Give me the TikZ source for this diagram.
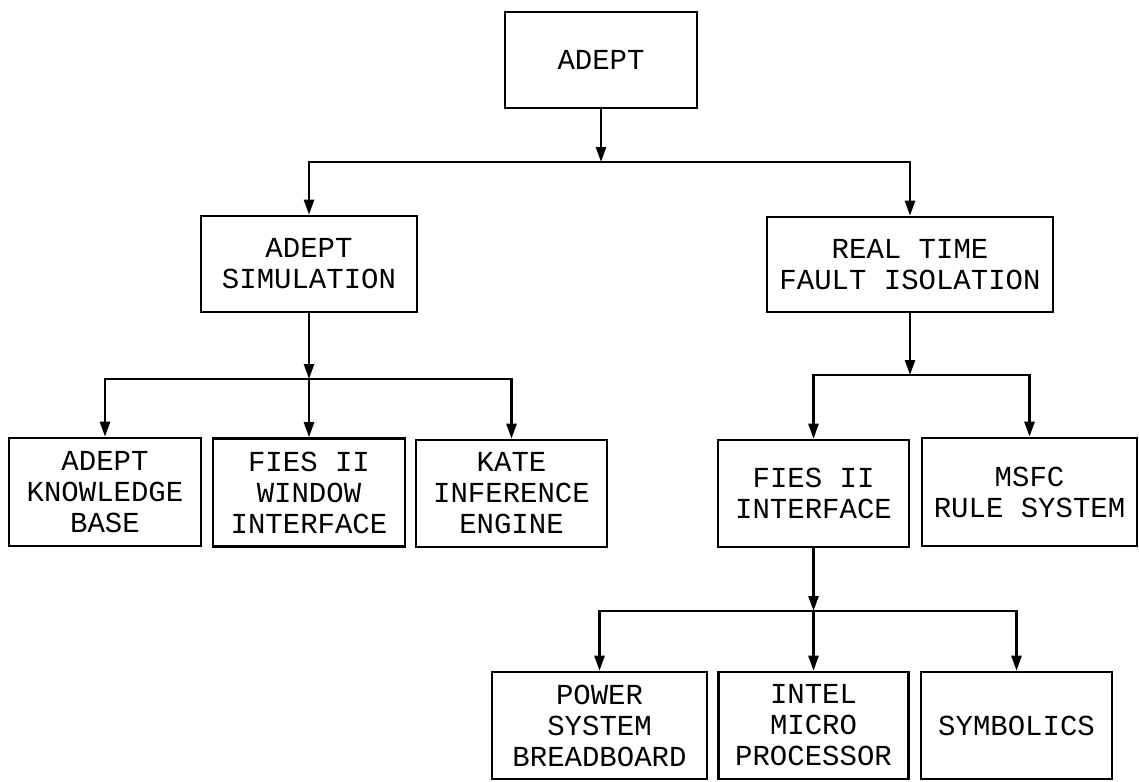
\documentclass[tikz,border=0pt]{standalone}
\usepackage{fontspec}
\setmonofont{Liberation Mono}
\usetikzlibrary{arrows.meta}
\tikzset{
  box/.style={draw, line width=2.6pt, align=center, inner sep=0pt,
    font=\ttfamily\fontsize{29}{31}\selectfont},
  arr/.style={line width=2.5pt, -{Triangle[length=15pt,width=10pt]}},
  bar/.style={line width=2.5pt},
}
\begin{document}
\begin{tikzpicture}[x=1pt,y=-1pt]
\useasboundingbox (0,0) rectangle (1139,781);
\fill[white] (0,0) rectangle (1139,781);
% nodes
\node[box, minimum width=192pt, minimum height=96pt] (adept) at (601,60) {ADEPT};
\node[box, minimum width=216pt, minimum height=96pt] (sim) at (309,264) {ADEPT\\SIMULATION};
\node[box, minimum width=286pt, minimum height=95pt] (rt) at (910,264.5) {REAL TIME\\FAULT ISOLATION};
\node[box, minimum width=192pt, minimum height=108pt] (kb) at (105,492) {ADEPT\\KNOWLEDGE\\BASE};
\node[box, minimum width=192pt, minimum height=108pt] (win) at (309,492.5) {FIES II\\WINDOW\\INTERFACE};
\node[box, minimum width=191pt, minimum height=107pt] (kate) at (511.5,493.5) {KATE\\INFERENCE\\ENGINE};
\node[box, minimum width=191pt, minimum height=107pt] (fint) at (813.5,493.5) {FIES II\\INTERFACE};
\node[box, minimum width=215pt, minimum height=108pt] (msfc) at (1029.5,492) {MSFC\\RULE SYSTEM};
\node[box, minimum width=215pt, minimum height=107pt] (pow) at (599.5,725.5) {POWER\\SYSTEM\\BREADBOARD};
\node[box, minimum width=190pt, minimum height=107pt] (intel) at (813.5,725.5) {INTEL\\MICRO\\PROCESSOR};
\node[box, minimum width=191pt, minimum height=107pt] (sym) at (1016.5,725.5) {SYMBOLICS};
% junction points
\coordinate (j1) at (601,162);
\coordinate (j2) at (309,379);
\coordinate (j3) at (910,375);
\coordinate (j4) at (813.5,611);
% connectors
\draw[arr] (adept.south) -- (adept.south |- j1);
\draw[arr] (adept.south |- j1) -| (sim.north);
\draw[arr] (adept.south |- j1) -| (rt.north);
\draw[arr] (sim.south) -- (sim.south |- j2);
\draw[arr] (sim.south |- j2) -| (kb.north);
\draw[arr] (win.north |- j2) -- (win.north);
\draw[arr] (sim.south |- j2) -| (kate.north);
\draw[arr] (rt.south) -- (rt.south |- j3);
\draw[arr] (rt.south |- j3) -| (fint.north);
\draw[arr] (rt.south |- j3) -| (msfc.north);
\draw[arr] (fint.south) -- (fint.south |- j4);
\draw[arr] (fint.south |- j4) -| (pow.north);
\draw[arr] (intel.north |- j4) -- (intel.north);
\draw[arr] (fint.south |- j4) -| (sym.north);
\end{tikzpicture}
\end{document}
